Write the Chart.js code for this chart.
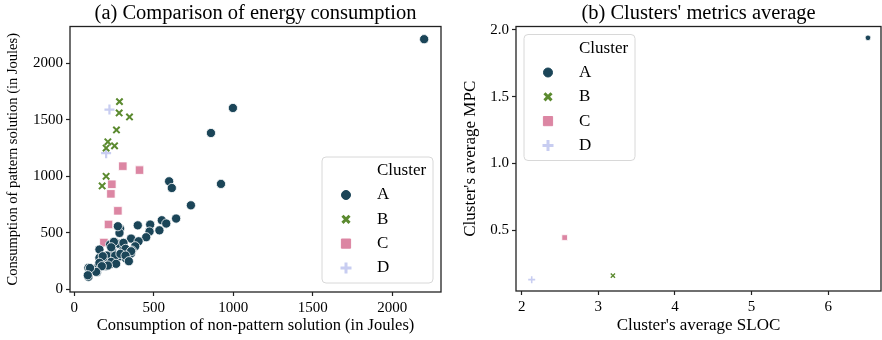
<!DOCTYPE html>
<html>
<head>
<meta charset="utf-8">
<script src="https://cdn.jsdelivr.net/npm/chart.js@4.4.0/dist/chart.umd.min.js"></script>
<style>
    body { margin: 0; background: #fff; }
    #wrapA { position: absolute; left: 0; top: 0; width: 446px; height: 340px; }
    #wrapB { position: absolute; left: 446px; top: 0; width: 436px; height: 340px; }
</style>
</head>
<body>
<div id="wrapA"><canvas id="canvasA" width="446" height="340"></canvas></div>
<div id="wrapB"><canvas id="canvasB" width="436" height="340"></canvas></div>
<script>
// clusters and their colours / markers
var clusters = ['A', 'B', 'C', 'D'];
var clusterColors = ['#1b4558', '#5b8a2f', '#dc86a3', '#c8cdf1'];
var clusterStyles = ['circle', 'crossRot', 'rect', 'cross'];

// (a) [non-pattern J, pattern J] per cluster
var energyA = [
    [2200, 2212], [998, 1604], [860, 1383], [597, 956], [614, 897], [923, 933],
    [734, 744], [641, 627], [551, 612], [579, 583], [478, 574], [400, 567],
    [536, 523], [474, 512], [453, 462], [358, 450], [405, 426], [289, 536],
    [285, 500], [268, 406], [283, 403], [226, 397], [384, 382], [363, 344],
    [310, 353], [289, 294], [357, 318], [327, 271], [237, 353], [206, 300],
    [159, 280], [184, 256], [241, 229], [201, 206], [153, 206], [90, 192],
    [143, 153], [90, 112], [258, 300], [310, 412], [275, 559], [250, 421],
    [233, 373], [323, 359], [358, 338], [159, 353], [291, 315], [323, 300],
    [180, 294], [344, 250], [233, 244], [264, 227], [212, 212], [159, 236],
    [174, 206], [138, 156], [100, 190], [86, 126]
];
var energyB = [
    [285, 1660], [283, 1560], [348, 1525], [266, 1410], [212, 1305],
    [254, 1270], [201, 1250], [201, 1000], [176, 915]
];
var energyC = [
    [306, 1090], [411, 1055], [237, 930], [231, 845], [275, 695], [216, 575], [187, 415]
];
var energyD = [
    [222, 1590], [201, 1205], [150, 175], [260, 330], [195, 260]
];

// (b) [average SLOC, average MPC] per cluster
var metricsA = [[6.52, 1.94]];
var metricsB = [[3.19, 0.16]];
var metricsC = [[2.56, 0.445]];
var metricsD = [[2.13, 0.13]];

var energyTicksX = [0, 500, 1000, 1500, 2000];
var energyTicksY = [0, 500, 1000, 1500, 2000];
var metricsTicksX = [2, 3, 4, 5, 6];
var metricsTicksY = [0.5, 1.0, 1.5, 2.0];

Chart.defaults.font.family = "'Liberation Serif', 'DejaVu Serif', serif";
Chart.defaults.color = '#000';

function toPoints(pairs){
    return pairs.map(function(p){ return {x: p[0], y: p[1]}; });
}

function createDatasets(groups, sizes){
    var datasets = [];
    for(var i = 0; i < clusters.length; i++){
        var isLine = clusterStyles[i] == 'crossRot' || clusterStyles[i] == 'cross';
        datasets.push({
            label: clusters[i],
            data: toPoints(groups[i]),
            pointStyle: clusterStyles[i],
            pointRadius: sizes[i],
            pointHoverRadius: sizes[i],
            backgroundColor: clusterColors[i],
            borderColor: isLine ? clusterColors[i] : '#ffffff',
            pointBorderWidth: isLine ? sizes[i] * 0.45 : 0.8
        });
    }
    return datasets;
}

function drawMarker(ctx, style, color, radius, x, y){
    var isLine = style == 'crossRot' || style == 'cross';
    ctx.save();
    ctx.fillStyle = color;
    ctx.strokeStyle = color;
    ctx.lineWidth = isLine ? 3 : 0;
    if(Chart.helpers && Chart.helpers.drawPoint){
        Chart.helpers.drawPoint(ctx, {pointStyle: style, radius: radius, borderWidth: ctx.lineWidth, rotation: 0}, x, y);
    }
    ctx.restore();
}

// matplotlib-like frame round the plot area
var framePlugin = {
    id: 'frame',
    afterDatasetsDraw: function(chart){
        var a = chart.chartArea;
        var ctx = chart.ctx;
        ctx.save();
        ctx.strokeStyle = '#222';
        ctx.lineWidth = 1.3;
        ctx.strokeRect(a.left, a.top, a.right - a.left, a.bottom - a.top);
        ctx.restore();
    }
};

// legend box with "Cluster" heading, like seaborn
var clusterLegend = {
    id: 'clusterLegend',
    afterDraw: function(chart, args, opts){
        var ctx = chart.ctx;
        var a = chart.chartArea;
        var w = 111, h = 126, r = 4;
        var x, y;
        if(opts.corner == 'bottomRight'){
            x = a.right - 8 - w;
            y = a.bottom - 9 - h;
        } else {
            x = a.left + 8;
            y = a.top + 8;
        }
        ctx.save();
        ctx.beginPath();
        ctx.moveTo(x + r, y);
        ctx.arcTo(x + w, y, x + w, y + h, r);
        ctx.arcTo(x + w, y + h, x, y + h, r);
        ctx.arcTo(x, y + h, x, y, r);
        ctx.arcTo(x, y, x + w, y, r);
        ctx.closePath();
        ctx.fillStyle = 'rgba(255,255,255,0.85)';
        ctx.fill();
        ctx.strokeStyle = '#d8d8d8';
        ctx.lineWidth = 1;
        ctx.stroke();

        ctx.fillStyle = '#000';
        ctx.font = "17px 'Liberation Serif', serif";
        ctx.textBaseline = 'middle';
        ctx.textAlign = 'left';
        ctx.fillText('Cluster', x + 55, y + 14);
        var sizes = [4.5, 5, 6.5, 5.5];
        for(var i = 0; i < clusters.length; i++){
            var rowY = y + 38 + i * 24.3;
            drawMarker(ctx, clusterStyles[i], clusterColors[i], sizes[i], x + 24, rowY);
            ctx.fillStyle = '#000';
            ctx.fillText(clusters[i], x + 55, rowY);
        }
        ctx.restore();
    }
};

function axisOptions(opts){
    return {
        type: 'linear',
        min: opts.min,
        max: opts.max,
        afterFit: opts.afterFit,
        afterBuildTicks: function(scale){
            scale.ticks = opts.ticks.map(function(v){ return {value: v}; });
        },
        grid: {
            display: true,
            drawOnChartArea: false,
            drawTicks: true,
            tickLength: 4,
            color: '#222',
            tickWidth: 1.2
        },
        border: { display: false },
        ticks: {
            font: { size: 15 },
            color: '#000',
            padding: 3,
            callback: opts.format
        },
        title: {
            display: true,
            text: opts.title,
            font: { size: opts.titleSize },
            color: '#000',
            padding: opts.titlePadding
        }
    };
}

function createConfig(datasets, setup){
    return {
        type: 'scatter',
        data: { datasets: datasets },
        options: {
            responsive: false,
            animation: false,
            layout: { autoPadding: false, padding: setup.padding },
            plugins: {
                legend: { display: false },
                tooltip: { enabled: false },
                title: {
                    display: true,
                    fullSize: false,
                    text: setup.title,
                    font: { size: 20.5, weight: 'normal', lineHeight: 1 },
                    color: '#000',
                    padding: { top: 3, bottom: 3 }
                },
                clusterLegend: { corner: setup.corner }
            },
            scales: {
                x: axisOptions(setup.x),
                y: axisOptions(setup.y)
            }
        },
        plugins: [framePlugin, clusterLegend]
    };
}

var chartA = new Chart(document.getElementById('canvasA').getContext('2d'), createConfig(
    createDatasets([energyA, energyB, energyC, energyD], [4.6, 4.5, 6, 5]),
    {
        title: '(a) Comparison of energy consumption',
        padding: { left: 0, right: 5, top: 0, bottom: 0 },
        corner: 'bottomRight',
        x: {
            min: -26, max: 2306, ticks: energyTicksX,
            title: 'Consumption of non-pattern solution (in Joules)', titleSize: 16.5,
            titlePadding: { top: 0, bottom: 4 },
            afterFit: function(scale){ scale.height = 48; }
        },
        y: {
            min: -22, max: 2324, ticks: energyTicksY,
            title: 'Consumption of pattern solution (in Joules)', titleSize: 14.5,
            titlePadding: { top: 4, bottom: 0 },
            afterFit: function(scale){ scale.width = 70; }
        }
    }
));

var chartB = new Chart(document.getElementById('canvasB').getContext('2d'), createConfig(
    createDatasets([metricsA, metricsB, metricsC, metricsD], [2.8, 3, 4, 3.5]),
    {
        title: "(b) Clusters' metrics average",
        padding: { left: 0, right: 1, top: 0, bottom: 0 },
        corner: 'topLeft',
        x: {
            min: 1.925, max: 6.69, ticks: metricsTicksX,
            title: "Cluster's average SLOC", titleSize: 17,
            titlePadding: { top: 0, bottom: 4 },
            afterFit: function(scale){ scale.height = 49; }
        },
        y: {
            min: 0.045, max: 2.025, ticks: metricsTicksY,
            title: "Cluster's average MPC", titleSize: 17,
            titlePadding: { top: 14, bottom: 0 },
            afterFit: function(scale){ scale.width = 70; },
            format: function(v){ return Number(v).toFixed(1); }
        }
    }
));
</script>
</body>
</html>
